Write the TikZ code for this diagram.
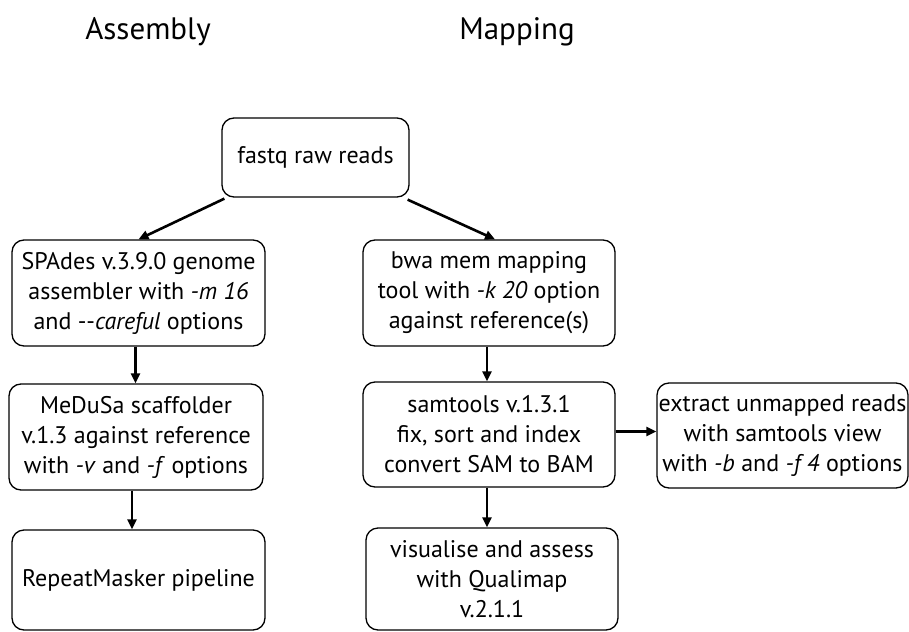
\documentclass[tikz,border=0pt]{standalone}
\usepackage{fontspec}
\setmainfont{PT Sans}
\usetikzlibrary{arrows.meta}
\begin{document}
\begin{tikzpicture}[x=1pt,y=-1pt,
  stepbox/.style={draw=black, line width=1.3pt, rounded corners=12pt, align=center,
    inner sep=0pt, font=\fontsize{24}{30}\selectfont},
  title/.style={font=\fontsize{31}{34}\selectfont, inner sep=0pt},
  arr/.style={line width=2.6pt, -{Triangle[length=10pt,width=9pt]}}]
\useasboundingbox (0,0) rectangle (909,631);
\node[title, anchor=base] (tasm) at (148,40) {Assembly};
\node[title, anchor=base] (tmap) at (517,40) {Mapping};
\node[stepbox, minimum width=187pt, minimum height=79pt] (fastq) at (315.5,157.5) {fastq raw reads};
\node[stepbox, minimum width=253pt, minimum height=106pt] (spades) at (138.5,293) {SPAdes v.3.9.0 genome\\assembler with \textit{-m 16}\\and -{}-\textit{careful} options};
\node[stepbox, minimum width=254pt, minimum height=106pt] (medusa) at (136,437) {MeDuSa scaffolder\\v.1.3 against reference\\with \textit{-v} and \textit{-f} options};
\node[stepbox, minimum width=253pt, minimum height=100pt] (repeat) at (138.5,580) {RepeatMasker pipeline};
\node[stepbox, minimum width=252pt, minimum height=106pt] (bwa) at (489,293) {bwa mem mapping\\tool with \textit{-k 20} option\\against reference(s)};
\node[stepbox, minimum width=252pt, minimum height=105pt] (samtools) at (489,434.5) {samtools v.1.3.1\\fix, sort and index\\convert SAM to BAM};
\node[stepbox, minimum width=252pt, minimum height=102pt] (quali) at (492,579) {visualise and assess\\with Qualimap\\v.2.1.1};
\node[stepbox, minimum width=251pt, minimum height=105pt] (extract) at (782.5,435.5) {extract unmapped reads\\with samtools view\\with \textit{-b} and \textit{-f 4} options};
\draw[arr] ([xshift=3pt,yshift=-1pt]fastq.south west) -- (spades.north);
\draw[arr] ([xshift=-2pt,yshift=-2pt]fastq.south east) -- ([xshift=6pt]bwa.north);
\draw[arr] ([xshift=-3pt]spades.south) -- ([xshift=-3pt]spades.south |- medusa.north);
\draw[arr] ([xshift=-4pt]medusa.south) -- ([xshift=-4pt]medusa.south |- repeat.north);
\draw[arr] ([xshift=-2pt]bwa.south) -- ([xshift=-2pt]bwa.south |- samtools.north);
\draw[arr] ([xshift=-2pt]samtools.south) -- ([xshift=-2pt]samtools.south |- quali.north);
\draw[arr] ([yshift=3pt]samtools.east) -- ([yshift=3pt]samtools.east -| extract.west);
\end{tikzpicture}
\end{document}
